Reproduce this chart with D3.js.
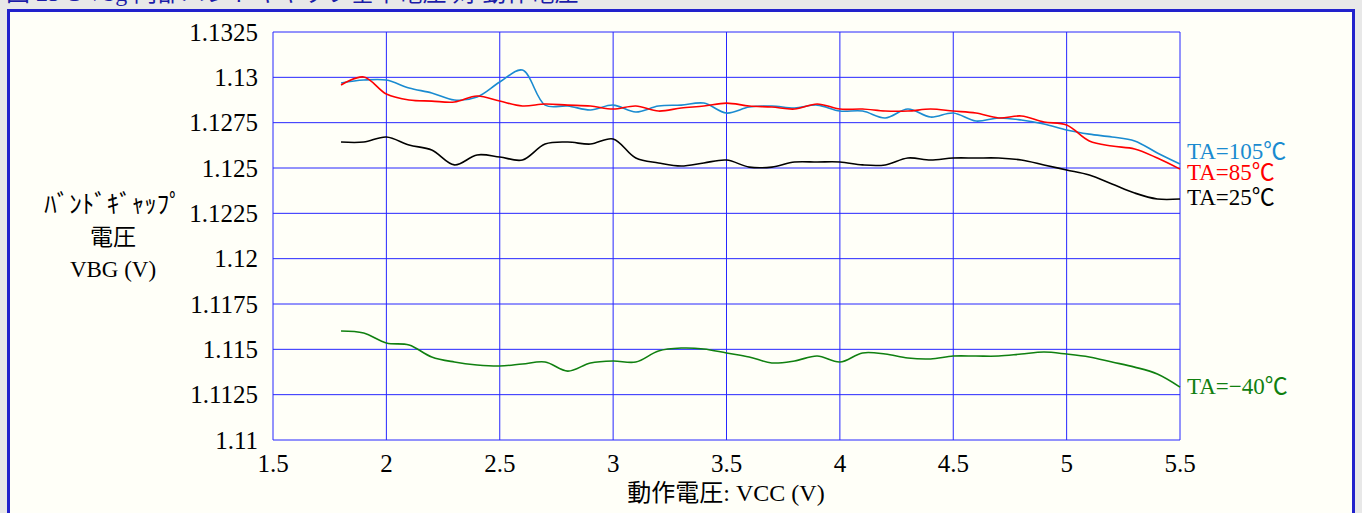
<!DOCTYPE html>
<html lang="ja">
<head>
<meta charset="utf-8">
<title>VBG vs VCC</title>
<style>
  body { margin: 0; background: #e8e8e8; }
  svg { display: block; }
  text { font-family: "Liberation Serif", "Noto Sans CJK JP", serif; }
  .grid line { stroke: #2626ff; stroke-width: 1; }
</style>
<script src="https://cdn.jsdelivr.net/npm/d3@7"></script>
</head>
<body>
<script>
// data
var vcc = [1.8, 1.9, 2.0, 2.1, 2.2, 2.3, 2.4, 2.5, 2.6, 2.7, 2.8, 2.9, 3.0, 3.1, 3.2, 3.3, 3.4, 3.5, 3.6,
           3.7, 3.8, 3.9, 4.0, 4.1, 4.2, 4.3, 4.4, 4.5, 4.6, 4.7, 4.8, 4.9, 5.0, 5.1, 5.2, 5.3, 5.4, 5.5];

var ta105 = [1.12969, 1.12985, 1.12985, 1.12941, 1.12914, 1.12875, 1.12892, 1.12974, 1.13040, 1.12847,
             1.12842, 1.12820, 1.12847, 1.12809, 1.12842, 1.12847, 1.12858, 1.12803, 1.12836, 1.12842,
             1.12831, 1.12847, 1.12814, 1.12814, 1.12776, 1.12825, 1.12781, 1.12803, 1.12759, 1.12776,
             1.12765, 1.12743, 1.12710, 1.12687, 1.12671, 1.12649, 1.12583, 1.12522];

var ta85 = [1.12958, 1.13002, 1.12908, 1.12875, 1.12869, 1.12864, 1.12897, 1.12869, 1.12842, 1.12853,
            1.12847, 1.12842, 1.12825, 1.12842, 1.12814, 1.12831, 1.12842, 1.12858, 1.12842, 1.12836,
            1.12825, 1.12853, 1.12825, 1.12825, 1.12814, 1.12814, 1.12825, 1.12814, 1.12803, 1.12776,
            1.12787, 1.12754, 1.12737, 1.12649, 1.12621, 1.12605, 1.12555, 1.12494];

var ta25 = [1.12643, 1.12643, 1.12671, 1.12627, 1.12599, 1.12517, 1.12572, 1.12561, 1.12544, 1.12632,
            1.12643, 1.12632, 1.12660, 1.12555, 1.12528, 1.12511, 1.12528, 1.12544, 1.12505, 1.12505,
            1.12533, 1.12533, 1.12533, 1.12517, 1.12517, 1.12555, 1.12544, 1.12555, 1.12555, 1.12555,
            1.12544, 1.12517, 1.12489, 1.12461, 1.12412, 1.12362, 1.12329, 1.12329];

var taM40 = [1.11601, 1.11590, 1.11535, 1.11524, 1.11458, 1.11430, 1.11414, 1.11408, 1.11419, 1.11430,
             1.11380, 1.11425, 1.11436, 1.11430, 1.11491, 1.11507, 1.11502, 1.11480, 1.11458, 1.11425,
             1.11436, 1.11463, 1.11430, 1.11480, 1.11474, 1.11452, 1.11447, 1.11463, 1.11463, 1.11463,
             1.11474, 1.11485, 1.11474, 1.11458, 1.11430, 1.11402, 1.11364, 1.11292];

var seriesNames = ["TA=105℃", "TA=85℃", "TA=25℃", "TA=−40℃"];
var seriesColors = ["#1a8bd0", "#ff0000", "#000000", "#108010"];
var seriesValues = [ta105, ta85, ta25, taM40];
var labelValues = [1.12596, 1.12480, 1.12340, 1.11298];

var xTicks = [1.5, 2, 2.5, 3, 3.5, 4, 4.5, 5, 5.5];
var yTicks = [1.11, 1.1125, 1.115, 1.1175, 1.12, 1.1225, 1.125, 1.1275, 1.13, 1.1325];

var W = 1362, H = 513;
var svg = d3.select("body").append("svg").attr("width", W).attr("height", H);

// title strip (cut off at top) and panel
svg.append("text")
  .attr("x", 6).attr("y", 1)
  .attr("fill", "#1c1ca8")
  .style("font-size", "24px")
  .text("図 25-1  Vbg  内部バンドギャップ基準電圧 対 動作電圧");

svg.append("rect")
  .attr("x", 8.5).attr("y", 10.5)
  .attr("width", 1345).attr("height", 520)
  .attr("fill", "#fffff8")
  .attr("stroke", "#2222cc").attr("stroke-width", 3);

var x = d3.scaleLinear().domain([1.5, 5.5]).range([273, 1180]);
var y = d3.scaleLinear().domain([1.11, 1.1325]).range([440, 32]);

var grid = svg.append("g").attr("class", "grid");
grid.selectAll(".v").data(xTicks).enter().append("line")
  .attr("x1", function(d){ return x(d); }).attr("x2", function(d){ return x(d); })
  .attr("y1", y(1.11)).attr("y2", y(1.1325));
grid.selectAll(".h").data(yTicks).enter().append("line")
  .attr("x1", x(1.5)).attr("x2", x(5.5))
  .attr("y1", function(d){ return y(d); }).attr("y2", function(d){ return y(d); });

// tick labels
svg.selectAll(".ylab").data(yTicks).enter().append("text")
  .attr("x", 258).attr("y", function(d){ return y(d); })
  .attr("dy", "0.35em")
  .attr("text-anchor", "end")
  .style("font-size", "25px")
  .text(function(d){ return d3.format("")(d); });

svg.selectAll(".xlab").data(xTicks).enter().append("text")
  .attr("x", function(d){ return x(d); }).attr("y", 472)
  .attr("text-anchor", "middle")
  .style("font-size", "25px")
  .text(function(d){ return d; });

// axis titles
svg.append("text").attr("x", 726).attr("y", 501)
  .attr("text-anchor", "middle").style("font-size", "24px")
  .text("動作電圧: VCC (V)");

var ytitle = ["ﾊﾞﾝﾄﾞｷﾞｬｯﾌﾟ", "電圧", "VBG (V)"];
var ytitleSize = [25, 23, 23];
svg.selectAll(".ytitle").data(ytitle).enter().append("text")
  .attr("x", 113).attr("y", function(d, i){ return 213 + i * 32; })
  .attr("text-anchor", "middle")
  .style("font-size", function(d, i){ return ytitleSize[i] + "px"; })
  .text(function(d){ return d; });

// lines
var line = d3.line()
  .x(function(d){ return x(d[0]); })
  .y(function(d){ return y(d[1]); })
  .curve(d3.curveCatmullRom.alpha(0.5));

seriesValues.forEach(function(vals, i) {
  svg.append("path")
    .datum(d3.zip(vcc, vals))
    .attr("fill", "none")
    .attr("stroke", seriesColors[i])
    .attr("stroke-width", 1.6)
    .attr("d", line);
  svg.append("text")
    .attr("x", 1187).attr("y", y(labelValues[i]))
    .attr("dy", "0.35em")
    .attr("fill", seriesColors[i])
    .style("font-size", "23px")
    .text(seriesNames[i]);
});
</script>
</body>
</html>
